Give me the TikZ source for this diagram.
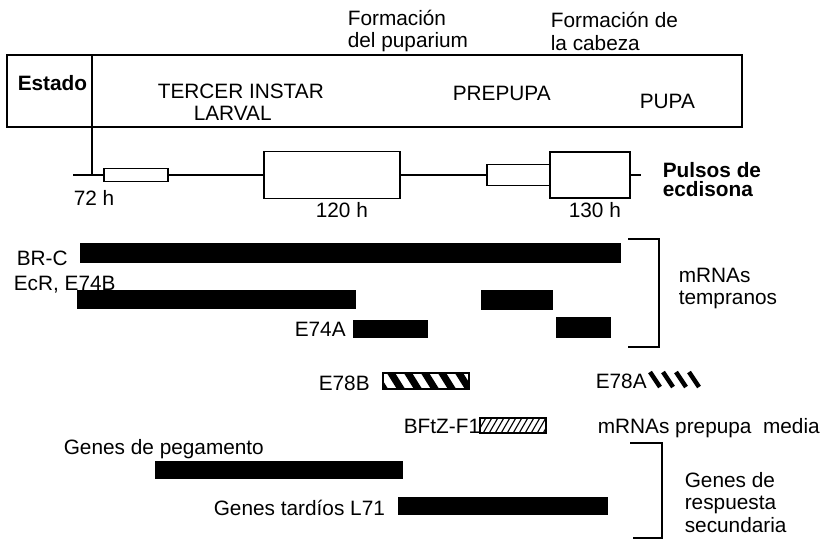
\documentclass[tikz,border=0pt]{standalone}
\usepackage{fontspec}
\setmainfont{Liberation Sans}
\usepackage{tikz}

\tikzset{
  lbl/.style={inner sep=0pt,anchor=base west,font=\fontsize{20.8}{23}\selectfont},
  boldlbl/.style={lbl,font=\fontsize{20.8}{23}\selectfont\bfseries},
  pulse/.style={draw,line width=1.6pt,inner sep=0pt,anchor=west},
  bar/.style={fill=black}
}

\begin{document}
\begin{tikzpicture}[x=1pt,y=-1pt,line width=1.6pt]
\useasboundingbox (0,0) rectangle (821,544);
% stages
\draw (7,55) rectangle (742,127);
\coordinate (t0) at (73,175);
\coordinate (t1) at (641,175);
\draw (92,55) -- (92,175);
\node[boldlbl] (estado) at (17,90) {Estado};
\node[lbl] (tercer) at (157,98) {TERCER INSTAR};
\node[lbl] (larval) at (193,120) {LARVAL};
\node[lbl] (prepupa) at (452,100) {PREPUPA};
\node[lbl] (pupa) at (639,108) {PUPA};
\node[lbl] (form1) at (347,25) {Formación};
\node[lbl] (form1b) at (347,47) {del puparium};
\node[lbl] (form2) at (550,27) {Formación de};
\node[lbl] (form2b) at (550,50) {la cabeza};
% ecdysone pulses
\node[pulse,minimum width=64pt,minimum height=13pt] (p1) at (103,175) {};
\node[pulse,minimum width=136pt,minimum height=47pt] (p2) at (263,175) {};
\node[pulse,minimum width=63pt,minimum height=21pt] (p3) at (486,175) {};
\node[pulse,minimum width=80pt,minimum height=46pt] (p4) at (549,175) {};
\draw (t0) -- (p1.west) (p1.east) -- (p2.west) (p2.east) -- (p3.west) (p4.east) -- (t1);
\node[lbl] (h72) at (73,205) {72 h};
\node[lbl] (h120) at (315,217) {120 h};
\node[lbl] (h130) at (568,217) {130 h};
\node[boldlbl] (pulsos) at (662,177) {Pulsos de};
\node[boldlbl] (ecd) at (662,196) {ecdisona};
% early mRNAs
\node[lbl] (brc) at (16,265) {BR-C};
\fill[bar] (80,243) rectangle (621,263);
\node[lbl] (ecr) at (13,290) {EcR, E74B};
\fill[bar] (77,290) rectangle (356,309);
\fill[bar] (481,290) rectangle (553,310);
\node[lbl] (e74a) at (294,336) {E74A};
\fill[bar] (353,320) rectangle (428,338);
\fill[bar] (556,317) rectangle (611,338);
\draw (628,239) -- (659,239) -- (659,347) -- (628,347);
\node[lbl] (temp1) at (678,282) {mRNAs};
\node[lbl] (temp2) at (678,304) {tempranos};
% E78
\node[lbl] (e78b) at (318,390) {E78B};
\begin{scope}
  \clip (383,373) rectangle (469,389);
  \foreach \x in {374,391,...,476}
    \draw[line width=7pt] (\x-5,365) -- (\x+15,397);
\end{scope}
\draw (383,373) rectangle (469,389);
\node[lbl] (e78a) at (595,388) {E78A};
\foreach \x in {650,663,676,689}
  \draw[line width=4.5pt] (\x,372) -- (\x+10,387);
% mid prepupa
\node[lbl] (bftz) at (403,433) {BFtZ-F1};
\begin{scope}
  \clip (480,418) rectangle (546,433);
  \foreach \x in {476,482,...,552}
    \draw[line width=1.1pt] (\x,435) -- (\x+11,416);
\end{scope}
\draw[line width=1.2pt] (480,418) rectangle (546,433);
\node[lbl] (media) at (597,433) {mRNAs prepupa\ \ media};
% secondary response
\node[lbl] (pega) at (63,454) {Genes de pegamento};
\fill[bar] (155,461) rectangle (403,479);
\node[lbl] (l71) at (213,515) {Genes tardíos L71};
\fill[bar] (398,497) rectangle (608,515);
\draw (630,443) -- (662,443) -- (662,538) -- (633,538);
\node[lbl] (sec1) at (684,487) {Genes de};
\node[lbl] (sec2) at (684,509) {respuesta};
\node[lbl] (sec3) at (684,532) {secundaria};
\end{tikzpicture}
\end{document}
